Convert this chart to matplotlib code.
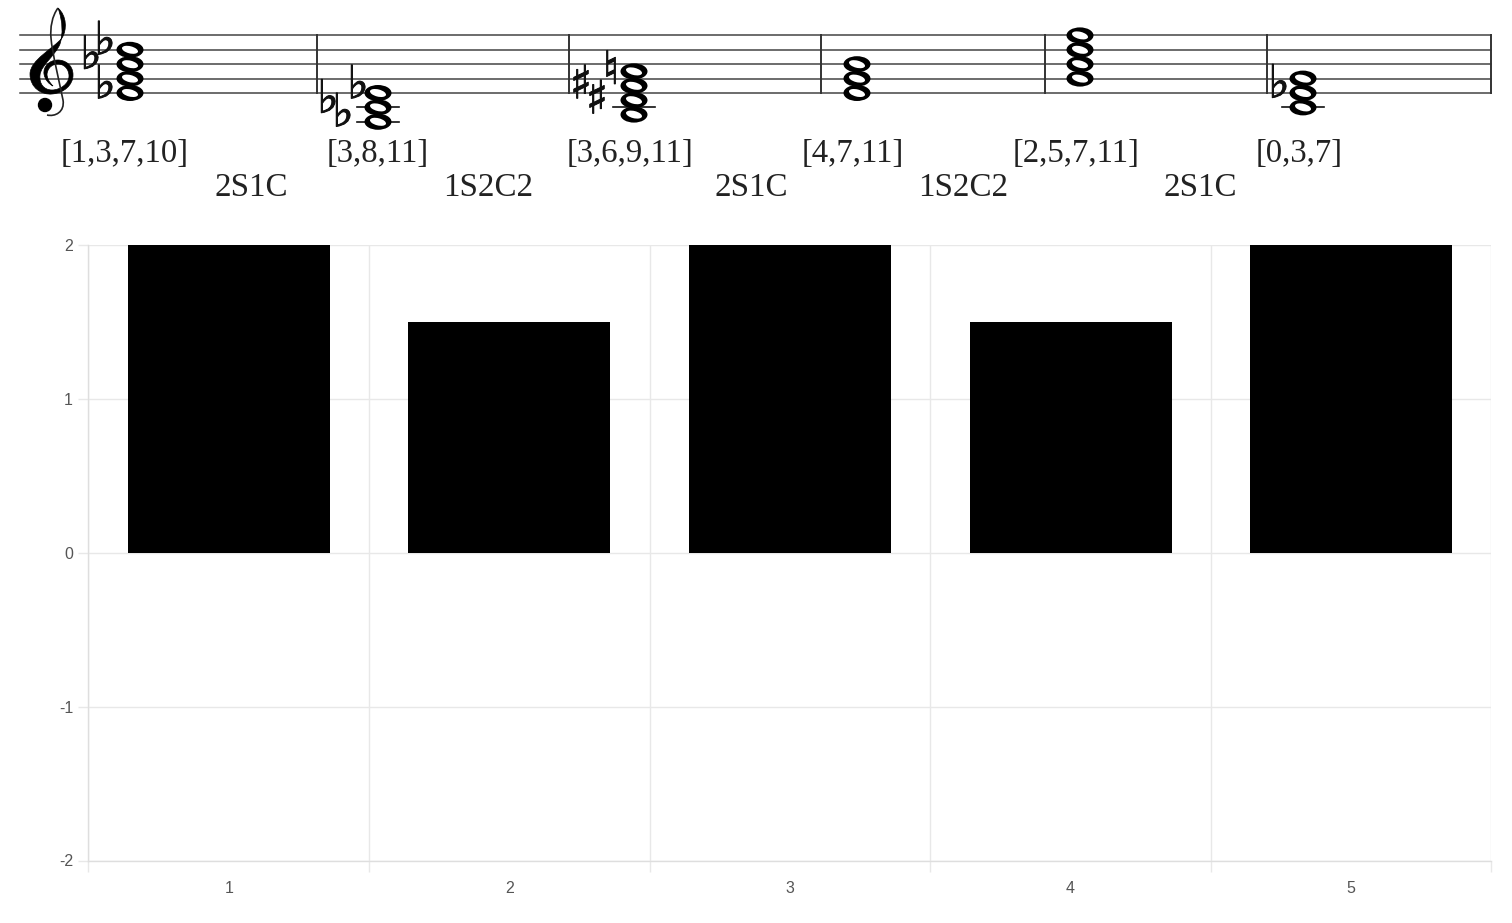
import matplotlib
matplotlib.use('Agg')
import matplotlib.pyplot as plt
import matplotlib.patheffects as pe
from matplotlib.patches import Ellipse, PathPatch
from matplotlib.path import Path
from matplotlib.transforms import Affine2D

W, H = 1512, 923

# bar data
positions = [1, 2, 3, 4, 5]
values = [2, 1.5, 2, 1.5, 2]
y_ticks = [-2, -1, 0, 1, 2]

# score data, note heights in staff steps above the bottom line
chord_notes = [
    [0, 2, 4, 6],
    [0, -2, -4],
    [3, 1, -1, -3],
    [0, 2, 4],
    [2, 4, 6, 8],
    [-2, 0, 2],
]
accidental_glyphs = ['♭', '♭', '♭', '♭', '♭', '♭', '♯', '♯', '♮', '♭']
accidental_steps = [5.1, 7.1, 1.0, -1.0, -2.9, 1.0, 1.0, -1.1, 3.0, 1.1]
chord_labels = ['[1,3,7,10]', '[3,8,11]', '[3,6,9,11]', '[4,7,11]', '[2,5,7,11]', '[0,3,7]']
type_labels = ['2S1C', '1S2C2', '2S1C', '1S2C2', '2S1C']

# layout in pixels of the reference
chord_x = [130, 378, 634, 857, 1080, 1303]
accidental_x = [91, 105, 105, 328, 343, 358, 581, 597, 611, 1279]
chord_label_x = [125, 378, 630, 853, 1076, 1299]
type_label_x = [251, 488, 751, 963, 1200]
barlines_x = [317, 569, 821, 1045, 1267, 1491]
staff_left, staff_bottom, step_px = 20, 93, 7.2


def step_of(y_px):
    return (staff_bottom - y_px) / step_px


plt.rcParams['font.family'] = ['Liberation Sans', 'DejaVu Sans']
plt.rcParams['axes.unicode_minus'] = False
fig = plt.figure(figsize=(W / 100, H / 100), dpi=100)

# --- bars ---
ax = fig.add_axes([88.4 / W, 1 - 860.5 / H, (1491.5 - 88.4) / W, (860.5 - 245) / H])
ax.bar(positions, values, width=0.72, color='black', zorder=3)
ax.set_xlim(0.5, 5.5)
ax.set_ylim(-2, 2)
ax.set_xticks(positions)
ax.set_xticks([0.5, 1.5, 2.5, 3.5, 4.5, 5.5], minor=True)
ax.set_yticks(y_ticks)
grid_color = '#e8e8e8'
ax.grid(True, which='minor', axis='x', color=grid_color, linewidth=1.0, zorder=0)
ax.grid(True, which='major', axis='y', color=grid_color, linewidth=1.0, zorder=0)
ax.tick_params(axis='x', which='major', length=0, pad=15, labelsize=11.5, labelcolor='#555555')
ax.tick_params(axis='x', which='minor', length=8, width=1.0, color=grid_color)
ax.tick_params(axis='y', length=7, width=1.0, color=grid_color, pad=4, labelsize=11.5, labelcolor='#555555')
for name, sp in ax.spines.items():
    sp.set_visible(name in ('left', 'bottom'))
    sp.set_color('#dedede')
    sp.set_linewidth(1.0)

# --- score overlay: x in pixels, y in staff steps ---
sc = fig.add_axes([0, 0, 1, 1], facecolor='none')
sc.set_xlim(0, W)
sc.set_ylim(step_of(H), step_of(0))
sc.axis('off')

for s in [0, 2, 4, 6, 8]:
    sc.plot([staff_left, barlines_x[-1]], [s, s], color='#444444', lw=1.1, zorder=1)
for x in barlines_x:
    sc.plot([x, x], [0, 8], color='#333333', lw=1.4, zorder=1)


def oval(x, s, a, b, tilt):
    # ellipse shaped in pixels, then squeezed into staff steps
    tr = Affine2D().scale(a, b).rotate_deg(tilt).scale(1, 1 / step_px).translate(x, s)
    return Path.unit_circle().transformed(tr)


for x, notes in zip(chord_x, chord_notes):
    for s in range(-2, min(notes) - 1, -2):
        sc.plot([x - 21, x + 21], [s, s], color='#111111', lw=1.2, zorder=2)
    for s in notes:
        sc.add_patch(PathPatch(oval(x, s, 13.5, 8.0, 0), color='black', lw=0, zorder=3))
    for s in notes:
        sc.add_patch(PathPatch(oval(x, s, 8.2, 3.6, -14), color='white', lw=0, zorder=4))

for glyph, s, gx in zip(accidental_glyphs, accidental_steps, accidental_x):
    sc.text(gx, s, glyph, family='DejaVu Sans', fontsize=33, ha='center', va='center', color='#111111',
            zorder=5, path_effects=[pe.withStroke(linewidth=0.7, foreground='#111111')])

# treble clef drawn as outlines, no installed font has the glyph
M, C4 = Path.MOVETO, Path.CURVE4
body = [(58, 8),
        (67, 16), (67, 30), (62, 38),
        (54, 48), (30, 60), (30, 74),
        (30, 88), (42, 95), (52, 94),
        (64, 93), (73, 85), (73, 75),
        (73, 64), (64, 60), (58, 60),
        (49, 60), (43, 67), (44, 74),
        (45, 80), (49, 84), (53, 86),
        (49, 82), (47, 78), (47, 74),
        (48, 67), (53, 64), (58, 64),
        (64, 64), (69, 69), (69, 76),
        (69, 84), (60, 90), (52, 90),
        (44, 90), (39, 84), (40, 75),
        (41, 65), (55, 56), (60, 44),
        (63, 34), (63, 22), (58, 8)]
stem = [(58, 8),
        (52, 16), (50, 28), (51, 38),
        (52, 52), (60, 85), (63, 100),
        (65, 112), (55, 117), (47, 115)]
sc.add_patch(PathPatch(Path([(a, step_of(b)) for a, b in body], [M] + [C4] * (len(body) - 1)),
                       facecolor='black', edgecolor='black', lw=0.5, zorder=3))
sc.add_patch(PathPatch(Path([(a, step_of(b)) for a, b in stem], [M] + [C4] * (len(stem) - 1)),
                       facecolor='none', edgecolor='#222222', lw=1.2, zorder=3))
sc.add_patch(Ellipse((45, step_of(105)), 13, 13 / step_px, color='black', zorder=3))

# --- labels ---
for x, t in zip(chord_label_x, chord_labels):
    sc.text(x, step_of(153.5), t, family='Liberation Serif', fontsize=23.6, ha='center', va='center', color='#222222')
for x, t in zip(type_label_x, type_labels):
    sc.text(x, step_of(188), t, family='Liberation Serif', fontsize=23.8, ha='center', va='center', color='#222222')

fig.savefig('out.png', dpi=100)
